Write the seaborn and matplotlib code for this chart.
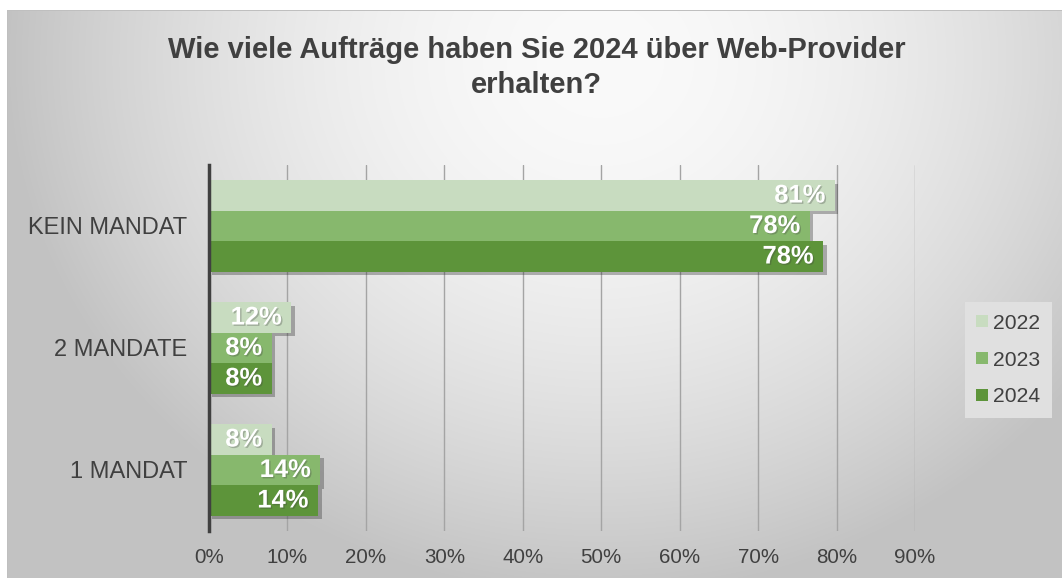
import numpy as np
import pandas as pd
import matplotlib
matplotlib.use("Agg")
import matplotlib.pyplot as plt
import matplotlib.patheffects as pe
import seaborn as sns

# ---- data ----
categories = ["KEIN MANDAT", "2 MANDATE", "1 MANDAT"]
years = ["2022", "2023", "2024"]
values_2022 = [79.8, 10.5, 8.0]
values_2023 = [76.6, 8.0, 14.2]
values_2024 = [78.3, 8.0, 13.9]
labels_2022 = ["81%", "12%", "8%"]
labels_2023 = ["78%", "8%", "14%"]
labels_2024 = ["78%", "8%", "14%"]
xtick_values = [0, 10, 20, 30, 40, 50, 60, 70, 80, 90]
xtick_labels = ["0%", "10%", "20%", "30%", "40%", "50%", "60%", "70%", "80%", "90%"]
title = "Wie viele Aufträge haben Sie 2024 über Web-Provider\nerhalten?"

colors = ["#c8dcc0", "#87b86d", "#5d943a"]
text_col = "#404040"

df = pd.DataFrame({
    "Kategorie": categories * 3,
    "Jahr": [years[0]] * 3 + [years[1]] * 3 + [years[2]] * 3,
    "Wert": values_2022 + values_2023 + values_2024,
})
all_labels = [labels_2022, labels_2023, labels_2024]

sns.set_theme(style="white")
plt.rcParams["font.family"] = ["Liberation Sans", "DejaVu Sans"]

W, H = 1062, 578
fig = plt.figure(figsize=(W / 100, H / 100), dpi=100)

# ---- background gradient ----
yy, xx = np.mgrid[0:H, 0:W]
d = np.sqrt(((xx - 600) / 1.0) ** 2 + ((yy - 60) / 0.9) ** 2)
g = 250 - 60 * (d / 620.0) ** 1.8
g = np.clip(g, 194, 250) / 255.0
bg = np.dstack([g, g, g])
bg[:, :7, :] = 1.0
bg[:10, :, :] = 1.0
bg[10:, 7, :] = 0.75
bg[10, 7:, :] = 0.75
bg_ax = fig.add_axes([0, 0, 1, 1])
bg_ax.imshow(bg, aspect="auto", extent=(0, 1, 0, 1), interpolation="bilinear")
bg_ax.axis("off")
bg_ax.set_zorder(-5)

# ---- main axes ----
ax = fig.add_axes([209 / W, 1 - 531 / H, (915 - 209) / W, (531 - 165) / H])
ax.set_zorder(1)
ax.patch.set_alpha(0)

sns.barplot(data=df, y="Kategorie", x="Wert", hue="Jahr", order=categories,
            hue_order=years, palette=colors, orient="h", width=0.75,
            saturation=1, ax=ax, errorbar=None, legend=True, linewidth=0,
            edgecolor="none")

ax.set_xlim(0, 90)
ax.set_ylim(2.5, -0.5)
ax.set_xticks(xtick_values)
ax.set_xticklabels(xtick_labels)
ax.grid(axis="x", color="#a4a4a4", linewidth=1.0)
ax.grid(axis="y", visible=False)
ax.set_axisbelow(True)
ax.set_xlabel("")
ax.set_ylabel("")
for s in ["top", "right", "bottom"]:
    ax.spines[s].set_visible(False)
ax.spines["left"].set_color(text_col)
ax.spines["left"].set_linewidth(2.5)
ax.spines["left"].set_zorder(5)
ax.tick_params(axis="x", length=0, pad=12, labelsize=14.8, labelcolor=text_col)
ax.tick_params(axis="y", which="major", length=0, pad=15.5, labelsize=17, labelcolor=text_col)
ax.set_yticks([-0.5, 0.5, 1.5, 2.5], minor=True)
ax.tick_params(axis="y", which="minor", length=5, width=2.5, color=text_col, direction="out")

# shadows and data labels
shadow = [pe.SimplePatchShadow(offset=(2.5, -2.5), shadow_rgbFace="#303030", alpha=0.35), pe.Normal()]
for cont, labs in zip(ax.containers, all_labels):
    for bar, lab in zip(cont, labs):
        bar.set_path_effects(shadow)
        w = bar.get_width()
        yc = bar.get_y() + bar.get_height() / 2
        ax.annotate(lab, xy=(w, yc), xytext=(-7, 0), textcoords="offset points",
                    ha="right", va="center", color="white", fontsize=18.4,
                    fontweight="bold", zorder=6,
                    path_effects=[pe.withSimplePatchShadow(offset=(1, -1), shadow_rgbFace="#404040", alpha=0.3)])

# legend
handles, leglabels = ax.get_legend_handles_labels()
ax.legend(handles, leglabels, loc="center", bbox_to_anchor=(1008.5 / W, 1 - 360 / H),
          bbox_transform=fig.transFigure, frameon=True, fancybox=False,
          facecolor="#e0e0e0", edgecolor="none", framealpha=1, fontsize=15.2,
          handlelength=0.55, handleheight=0.55, handletextpad=0.25,
          labelspacing=0.85, borderpad=0.55, borderaxespad=0, labelcolor=text_col)

fig.text(536.5 / W, 1 - 36 / H, title, ha="center", va="top", ma="center",
         fontsize=21, fontweight="bold", color=text_col, linespacing=1.32)

fig.savefig("out.png", dpi=100)
